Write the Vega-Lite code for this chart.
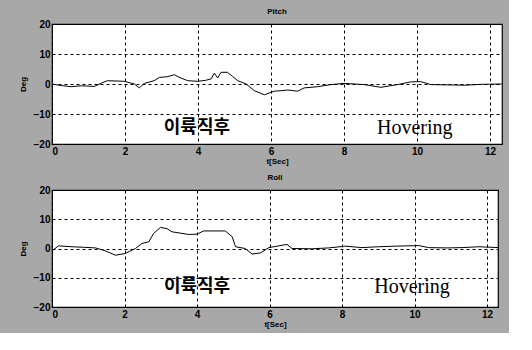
{
  "$schema": "https://vega.github.io/schema/vega-lite/v6.json",
  "background": "#a8a8a8",
  "padding": {"left": 18, "top": 7, "right": 4, "bottom": 4},
  "spacing": 7,
  "datasets": {
    "pitch": [
      {"t": 0, "v": 0}, {"t": 0.25, "v": -0.5}, {"t": 0.52, "v": -0.9}, {"t": 0.8, "v": -0.6}, {"t": 1.16, "v": -0.8},
      {"t": 1.35, "v": 0.3}, {"t": 1.52, "v": 1.1}, {"t": 1.98, "v": 0.9}, {"t": 2.26, "v": 0}, {"t": 2.39, "v": -1.3},
      {"t": 2.53, "v": 0.2}, {"t": 2.8, "v": 1.1}, {"t": 2.94, "v": 2.2}, {"t": 3.15, "v": 2.4}, {"t": 3.35, "v": 3.1},
      {"t": 3.53, "v": 2.0}, {"t": 3.72, "v": 1.1}, {"t": 3.99, "v": 0.9}, {"t": 4.2, "v": 1.2}, {"t": 4.36, "v": 1.7},
      {"t": 4.45, "v": 3.6}, {"t": 4.54, "v": 2.0}, {"t": 4.63, "v": 3.9}, {"t": 4.81, "v": 3.9}, {"t": 4.95, "v": 2.5},
      {"t": 5.09, "v": 1.1}, {"t": 5.32, "v": 0}, {"t": 5.54, "v": -2.2}, {"t": 5.82, "v": -3.6}, {"t": 6.09, "v": -2.4},
      {"t": 6.3, "v": -2.2}, {"t": 6.46, "v": -2.0}, {"t": 6.73, "v": -2.4}, {"t": 6.91, "v": -1.3}, {"t": 7.28, "v": -0.9},
      {"t": 7.64, "v": -0.2}, {"t": 8.0, "v": 0.2}, {"t": 8.56, "v": -0.2}, {"t": 9.01, "v": -1.1}, {"t": 9.47, "v": -0.2},
      {"t": 9.83, "v": 0.7}, {"t": 10.1, "v": 0.8}, {"t": 10.38, "v": -0.2}, {"t": 10.9, "v": -0.3}, {"t": 11.3, "v": -0.4},
      {"t": 11.8, "v": -0.1}, {"t": 12.32, "v": 0}
    ],
    "roll": [
      {"t": 0, "v": -0.8}, {"t": 0.18, "v": 0.9}, {"t": 0.55, "v": 0.6}, {"t": 0.9, "v": 0.4}, {"t": 1.2, "v": 0.2},
      {"t": 1.47, "v": -0.8}, {"t": 1.75, "v": -2.3}, {"t": 2.02, "v": -1.7}, {"t": 2.3, "v": 0}, {"t": 2.48, "v": 1.7},
      {"t": 2.67, "v": 2.3}, {"t": 2.8, "v": 5.1}, {"t": 2.99, "v": 7.2}, {"t": 3.17, "v": 6.8}, {"t": 3.31, "v": 5.7},
      {"t": 3.77, "v": 4.8}, {"t": 4.0, "v": 4.9}, {"t": 4.18, "v": 6.0}, {"t": 4.78, "v": 6.0}, {"t": 4.97, "v": 4.0},
      {"t": 5.06, "v": 0.6}, {"t": 5.33, "v": 0}, {"t": 5.52, "v": -1.9}, {"t": 5.75, "v": -1.5}, {"t": 5.98, "v": 0.3},
      {"t": 6.25, "v": 0.9}, {"t": 6.48, "v": 1.4}, {"t": 6.62, "v": 0}, {"t": 7.17, "v": -0.1}, {"t": 7.63, "v": 0.2},
      {"t": 8.09, "v": 0.8}, {"t": 8.55, "v": 0.3}, {"t": 9.0, "v": 0.6}, {"t": 9.47, "v": 0.8}, {"t": 10.11, "v": 1.0},
      {"t": 10.39, "v": 0.3}, {"t": 10.9, "v": 0.2}, {"t": 11.31, "v": 0.3}, {"t": 11.77, "v": 0.6}, {"t": 12.32, "v": 0.3}
    ],
    "labelsTop": [
      {"t": 3.97, "v": -14.7, "txt": "이륙직후", "lang": "ko"},
      {"t": 9.94, "v": -14.7, "txt": "Hovering", "lang": "en"}
    ],
    "labelsBottom": [
      {"t": 4.0, "v": -13.2, "txt": "이륙직후", "lang": "ko"},
      {"t": 9.93, "v": -13.2, "txt": "Hovering", "lang": "en"}
    ]
  },
  "config": {
    "view": {"fill": "white", "stroke": "black", "strokeWidth": 1.2},
    "axis": {
      "domain": false, "ticks": false, "grid": true, "gridColor": "black", "gridDash": [3, 3], "gridOpacity": 1, "gridWidth": 1,
      "labelFont": "Liberation Sans", "labelFontSize": 10, "labelFontWeight": "bold", "labelColor": "black", "labelPadding": 2,
      "titleFont": "Liberation Sans", "titleFontSize": 8, "titleFontWeight": "bold", "titleColor": "black"
    },
    "title": {"font": "Liberation Sans", "fontSize": 8, "fontWeight": "bold", "color": "black", "offset": 3}
  },
  "vconcat": [
    {
      "width": 450, "height": 120,
      "title": "Pitch",
      "encoding": {
        "x": {"field": "t", "type": "quantitative", "scale": {"domain": [0, 12.33], "nice": false}, "axis": {"values": [0, 2, 4, 6, 8, 10, 12], "title": "t[Sec]", "titlePadding": 1}},
        "y": {"field": "v", "type": "quantitative", "scale": {"domain": [-20, 20]}, "axis": {"values": [-20, -10, 0, 10, 20], "title": "Deg", "titlePadding": 6}}
      },
      "layer": [
        {
          "data": {"name": "pitch"},
          "mark": {"type": "line", "color": "black", "strokeWidth": 1}
        },
        {
          "data": {"name": "labelsTop"},
          "transform": [{"filter": "datum.lang == 'ko'"}],
          "mark": {"type": "text", "fontSize": 18, "color": "black", "fontWeight": "bold", "font": "Noto Sans CJK KR", "letterSpacing": 2},
          "encoding": {"text": {"field": "txt"}}
        },
        {
          "data": {"name": "labelsTop"},
          "transform": [{"filter": "datum.lang == 'en'"}],
          "mark": {"type": "text", "fontSize": 20, "color": "black", "font": "Liberation Serif"},
          "encoding": {"text": {"field": "txt"}}
        }
      ]
    },
    {
      "width": 446, "height": 117,
      "title": "Roll",
      "encoding": {
        "x": {"field": "t", "type": "quantitative", "scale": {"domain": [0, 12.3], "nice": false}, "axis": {"values": [0, 2, 4, 6, 8, 10, 12], "title": "t[Sec]", "titlePadding": 1}},
        "y": {"field": "v", "type": "quantitative", "scale": {"domain": [-20, 20]}, "axis": {"values": [-20, -10, 0, 10, 20], "title": "Deg", "titlePadding": 6}}
      },
      "layer": [
        {
          "data": {"name": "roll"},
          "mark": {"type": "line", "color": "black", "strokeWidth": 1}
        },
        {
          "data": {"name": "labelsBottom"},
          "transform": [{"filter": "datum.lang == 'ko'"}],
          "mark": {"type": "text", "fontSize": 18, "color": "black", "fontWeight": "bold", "font": "Noto Sans CJK KR", "letterSpacing": 2},
          "encoding": {"text": {"field": "txt"}}
        },
        {
          "data": {"name": "labelsBottom"},
          "transform": [{"filter": "datum.lang == 'en'"}],
          "mark": {"type": "text", "fontSize": 20, "color": "black", "font": "Liberation Serif"},
          "encoding": {"text": {"field": "txt"}}
        }
      ]
    }
  ]
}
